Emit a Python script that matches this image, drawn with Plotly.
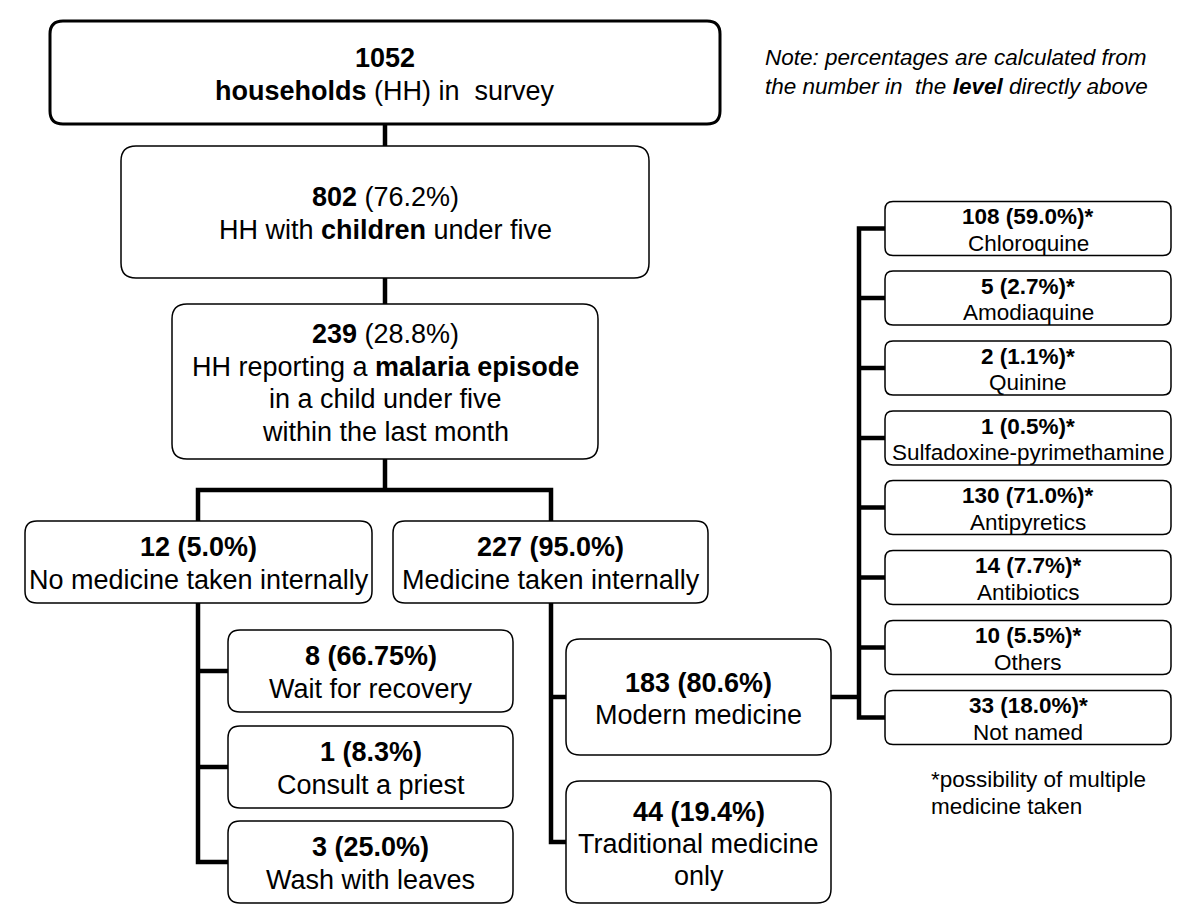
import plotly.graph_objects as go

# ---------------- data ----------------
survey_total = 1052
children_n, children_pct = 802, "76.2%"
malaria_n, malaria_pct = 239, "28.8%"

branch_counts = [12, 227]
branch_pcts = ["5.0%", "95.0%"]
branch_labels = ["No medicine taken internally", "Medicine taken internally"]

nomed_counts = [8, 1, 3]
nomed_pcts = ["66.75%", "8.3%", "25.0%"]
nomed_labels = ["Wait for recovery", "Consult a priest", "Wash with leaves"]

med_counts = [183, 44]
med_pcts = ["80.6%", "19.4%"]
med_labels = [["Modern medicine"], ["Traditional medicine", "only"]]

modern_counts = [108, 5, 2, 1, 130, 14, 10, 33]
modern_pcts = ["59.0%", "2.7%", "1.1%", "0.5%", "71.0%", "7.7%", "5.5%", "18.0%"]
modern_labels = ["Chloroquine", "Amodiaquine", "Quinine", "Sulfadoxine-pyrimethamine",
                 "Antipyretics", "Antibiotics", "Others", "Not named"]

note_lines = ["<i>Note: percentages are calculated from</i>",
              "<i>the number in  the <b>level</b> directly above</i>"]
foot_lines = ["*possibility of multiple", "medicine taken"]

# ---------------- layout geometry ----------------
FONT = "Liberation Sans, Arial, Helvetica, sans-serif"
MAIN_FS = 27
SMALL_FS = 22.5
MAIN_LS = 33
SMALL_LS = 26.5
CONN_W = 4.5

shapes = []
annotations = []


def rr_path(x0, y0, x1, y1, r):
    return (f"M{x0+r},{y0} L{x1-r},{y0} Q{x1},{y0} {x1},{y0+r} "
            f"L{x1},{y1-r} Q{x1},{y1} {x1-r},{y1} L{x0+r},{y1} "
            f"Q{x0},{y1} {x0},{y1-r} L{x0},{y0+r} Q{x0},{y0} {x0+r},{y0} Z")


def box(x0, y0, x1, y1, r, lw, lines, fs, ls):
    shapes.append(dict(type="path", path=rr_path(x0, y0, x1, y1, r),
                       xref="x", yref="y", fillcolor="white",
                       line=dict(color="black", width=lw), layer="above"))
    cx = (x0 + x1) / 2
    cy = (y0 + y1) / 2 + 1.5
    n = len(lines)
    for i, t in enumerate(lines):
        y = cy + (i - (n - 1) / 2) * ls
        annotations.append(dict(x=cx, y=y, xref="x", yref="y", text=t,
                                showarrow=False, xanchor="center", yanchor="middle",
                                font=dict(family=FONT, size=fs, color="black")))


def conn(path):
    shapes.append(dict(type="path", path=path, xref="x", yref="y",
                       line=dict(color="black", width=CONN_W), layer="above"))


# connectors (drawn first, boxes cover their ends)
conn("M385,124 L385,146")
conn("M385,278 L385,304")
conn("M385,459 L385,490")
conn("M198,521 L198,490 L551,490 L551,521")
# no-medicine branch
left_tops = [630, 726, 821]
left_h = 82
left_centers = [t + left_h / 2 for t in left_tops]
conn(f"M198,603 L198,{left_centers[-1]} L228,{left_centers[-1]}")
for c in left_centers[:-1]:
    conn(f"M198,{c} L228,{c}")
# medicine branch
med_boxes = [(639, 755), (781, 903)]
conn("M551,603 L551,842 L566,842")
conn("M551,697 L566,697")
# modern medicine list
right_tops = [201.5, 271, 341, 411, 480.5, 550.5, 620.5, 690.5]
right_h = 54
right_centers = [t + right_h / 2 for t in right_tops]
conn("M831,697 L859,697")
conn(f"M885,{right_centers[0]} L859,{right_centers[0]} L859,{right_centers[-1]} L885,{right_centers[-1]}")
for c in right_centers[1:-1]:
    conn(f"M859,{c} L885,{c}")

# boxes
box(50, 21, 720, 124, 13, 3, [f"<b>{survey_total}</b>", "<b>households</b> (HH) in  survey"], MAIN_FS, MAIN_LS)
box(121, 146, 649, 278, 15, 1.5, [f"<b>{children_n}</b> ({children_pct})", "HH with <b>children</b> under five"], MAIN_FS, MAIN_LS)
box(172, 304, 598, 459, 15, 1.5, [f"<b>{malaria_n}</b> ({malaria_pct})", "HH reporting a <b>malaria episode</b>",
                                  "in a child under five", "within the last month"], MAIN_FS, 32.5)
branch_x = [(25, 372), (393, 708)]
for (x0, x1), n, p, lab in zip(branch_x, branch_counts, branch_pcts, branch_labels):
    box(x0, 521, x1, 603, 12, 1.5, [f"<b>{n} ({p})</b>", lab], MAIN_FS, MAIN_LS)

for t, n, p, lab in zip(left_tops, nomed_counts, nomed_pcts, nomed_labels):
    box(228, t, 513, t + left_h, 12, 1.5, [f"<b>{n} ({p})</b>", lab], MAIN_FS, MAIN_LS)

for (y0, y1), n, p, labs in zip(med_boxes, med_counts, med_pcts, med_labels):
    box(566, y0, 831, y1, 14, 1.5, [f"<b>{n} ({p})</b>"] + labs, MAIN_FS, 32)

for t, n, p, lab in zip(right_tops, modern_counts, modern_pcts, modern_labels):
    box(885, t, 1171, t + right_h, 8, 1.5, [f"<b>{n} ({p})*</b>", lab], SMALL_FS, SMALL_LS)

# free texts
for i, t in enumerate(note_lines):
    annotations.append(dict(x=763, y=57 + i * 29, xref="x", yref="y", text=t, showarrow=False,
                            xanchor="left", yanchor="middle",
                            font=dict(family=FONT, size=SMALL_FS, color="black")))
for i, t in enumerate(foot_lines):
    annotations.append(dict(x=929, y=779 + i * 27, xref="x", yref="y", text=t, showarrow=False,
                            xanchor="left", yanchor="middle",
                            font=dict(family=FONT, size=SMALL_FS, color="black")))

fig = go.Figure()
fig.add_trace(go.Scatter(x=[0, 1200], y=[0, 917], mode="markers",
                         marker=dict(opacity=0), hoverinfo="skip", showlegend=False))
fig.update_layout(
    width=1200, height=917,
    margin=dict(l=0, r=0, t=0, b=0),
    paper_bgcolor="white", plot_bgcolor="white",
    xaxis=dict(range=[0, 1200], visible=False, fixedrange=True),
    yaxis=dict(range=[917, 0], visible=False, fixedrange=True),
    shapes=shapes, annotations=annotations, showlegend=False,
)
fig.write_html("out.html", config={"displayModeBar": False},
               post_script="document.body.style.margin='0';document.body.style.overflow='hidden';")
